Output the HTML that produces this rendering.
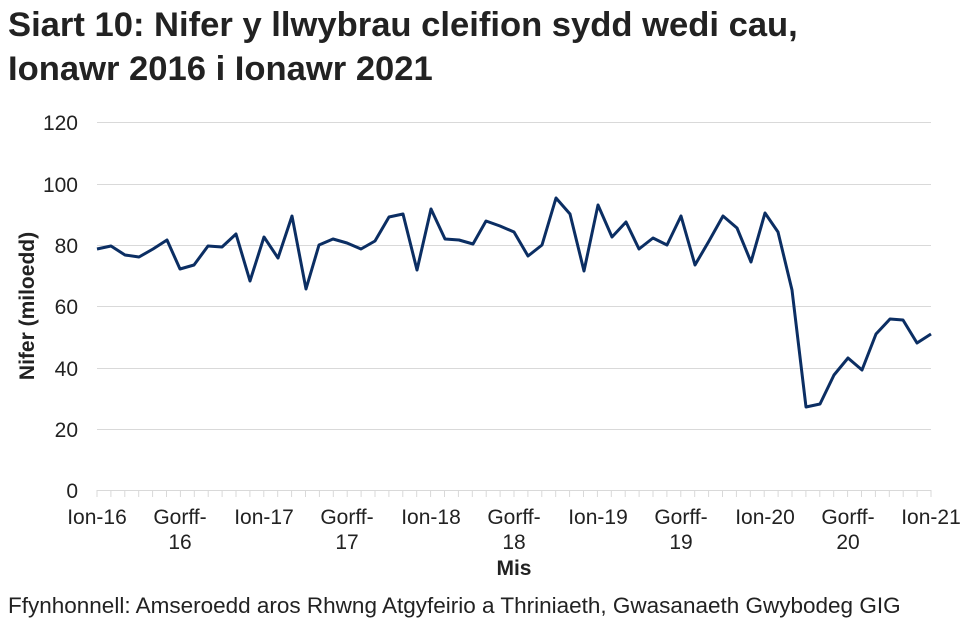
<!DOCTYPE html>
<html><head><meta charset="utf-8"><style>
body{margin:0;background:#fff;width:972px;height:629px;overflow:hidden;font-family:"Liberation Sans",Arial,sans-serif}
</style></head><body>
<svg width="972" height="629" xmlns="http://www.w3.org/2000/svg" font-family="Liberation Sans, Arial, sans-serif">
<text x="8" y="36" font-size="34.6" font-weight="bold" fill="#222">Siart 10: Nifer y llwybrau cleifion sydd wedi cau,</text>
<text x="8" y="80" font-size="34.6" font-weight="bold" fill="#222">Ionawr 2016 i Ionawr 2021</text>
<g stroke="#d9d9d9" stroke-width="1">
<line x1="97" x2="931" y1="122.5" y2="122.5"/><line x1="97" x2="931" y1="184.5" y2="184.5"/><line x1="97" x2="931" y1="245.5" y2="245.5"/><line x1="97" x2="931" y1="306.5" y2="306.5"/><line x1="97" x2="931" y1="368.5" y2="368.5"/><line x1="97" x2="931" y1="429.5" y2="429.5"/>
</g>
<line x1="97" x2="931" y1="490.5" y2="490.5" stroke="#d9d9d9"/>
<g id="ticks" stroke="#d9d9d9"></g>
<g font-size="21" fill="#222" text-anchor="end">
<text x="78" y="130">120</text><text x="78" y="192">100</text><text x="78" y="253">80</text><text x="78" y="314">60</text><text x="78" y="376">40</text><text x="78" y="437">20</text><text x="78" y="498">0</text>
</g>
<g font-size="21" fill="#222" text-anchor="middle">
<text x="97" y="524">Ion-16</text>
<text x="180" y="524">Gorff-</text><text x="180" y="549">16</text>
<text x="264" y="524">Ion-17</text>
<text x="347" y="524">Gorff-</text><text x="347" y="549">17</text>
<text x="431" y="524">Ion-18</text>
<text x="514" y="524">Gorff-</text><text x="514" y="549">18</text>
<text x="598" y="524">Ion-19</text>
<text x="681" y="524">Gorff-</text><text x="681" y="549">19</text>
<text x="765" y="524">Ion-20</text>
<text x="848" y="524">Gorff-</text><text x="848" y="549">20</text>
<text x="931" y="524">Ion-21</text>
</g>
<text x="514" y="575" font-size="21" font-weight="bold" text-anchor="middle" fill="#222">Mis</text>
<text transform="translate(34,306) rotate(-90)" font-size="21" font-weight="bold" text-anchor="middle" fill="#222">Nifer (miloedd)</text>
<polyline fill="none" stroke="#0b2e63" stroke-width="3" stroke-linejoin="round" points="97,249 111,246 125,255 139,257 153,249 167,240 180,269 194,265 208,246 222,247 236,234 250,281 264,237 278,258 292,216 306,289 319,245 333,239 347,243 361,249 375,241 389,217 403,214 417,270 431,209 445,239 459,240 473,244 486,221 500,226 514,232 528,256 542,245 556,198 570,214 584,271 598,205 612,237 626,222 639,249 653,238 667,245 681,216 695,265 709,241 723,216 737,228 751,262 765,213 778,232 792,290 806,407 820,404 834,375 848,358 862,370 876,334 890,319 903,320 917,343 931,334"/>
<text x="8" y="613" font-size="22.5" fill="#222">Ffynhonnell: Amseroedd aros Rhwng Atgyfeirio a Thriniaeth, Gwasanaeth Gwybodeg GIG</text>
</svg>
<script>
var g=document.getElementById('ticks');for(var i=0;i<=60;i++){var x=97+i*13.9;var l=document.createElementNS('http://www.w3.org/2000/svg','line');l.setAttribute('x1',x);l.setAttribute('x2',x);l.setAttribute('y1',490);l.setAttribute('y2',497);g.appendChild(l);}
</script>
</body></html>
